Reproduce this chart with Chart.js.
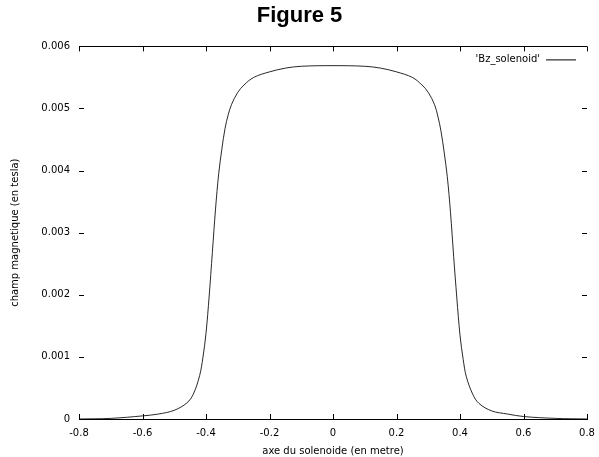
<!DOCTYPE html>
<html>
<head>
<meta charset="utf-8">
<script src="https://cdn.jsdelivr.net/npm/chart.js@4.4.1/dist/chart.umd.min.js"></script>
<style>
  html, body { margin: 0; padding: 0; background: #fff; }
  #wrap { width: 599px; height: 457px; }
</style>
</head>
<body>
<div id="wrap"><canvas id="fig5"></canvas></div>
<script>
// position along the solenoid axis (m) and field Bz (T)
const positions = [-0.8, -0.7, -0.6, -0.55, -0.5, -0.46, -0.44, -0.42, -0.41, -0.4, -0.39, -0.38, -0.37, -0.36, -0.35, -0.34, -0.33, -0.32, -0.3, -0.28, -0.25, -0.2, -0.15, -0.1, 0,
  0.1, 0.15, 0.2, 0.25, 0.28, 0.3, 0.32, 0.33, 0.34, 0.35, 0.36, 0.37, 0.38, 0.39, 0.4, 0.41, 0.42, 0.44, 0.46, 0.5, 0.55, 0.6, 0.7, 0.8];
const bzValues = [0.0, 0.00001, 0.00005, 0.00008, 0.00014, 0.00026, 0.00040, 0.00070, 0.00098, 0.00138, 0.00198, 0.00268, 0.00338, 0.00395, 0.00435, 0.00468, 0.00490, 0.00506, 0.00526, 0.00538, 0.00550, 0.00559, 0.00565, 0.00568, 0.00569,
  0.00568, 0.00565, 0.00559, 0.00550, 0.00538, 0.00526, 0.00506, 0.00488, 0.00464, 0.00430, 0.00390, 0.00333, 0.00262, 0.00195, 0.00135, 0.00096, 0.00068, 0.00040, 0.00025, 0.00013, 0.00008, 0.00004, 0.00001, 0.0];
const xTicks = [-0.8, -0.6, -0.4, -0.2, 0, 0.2, 0.4, 0.6, 0.8];
const yTicks = [0, 0.001, 0.002, 0.003, 0.004, 0.005, 0.006];

const points = positions.map((x, i) => ({ x: x, y: bzValues[i] }));
const labelFont = { family: "'DejaVu Sans', sans-serif", size: 10 };

// gnuplot style: ticks drawn inward on all four sides + legend inside the plot
const gnuplotFrame = {
  id: "gnuplotFrame",
  afterDatasetsDraw(chart) {
    const { ctx, chartArea: a, scales } = chart;
    const len = 5;
    ctx.save();
    ctx.strokeStyle = "#000";
    ctx.lineWidth = 1;
    ctx.beginPath();
    xTicks.forEach(v => {
      const px = Math.round(scales.x.getPixelForValue(v)) + 0.5;
      ctx.moveTo(px, a.bottom); ctx.lineTo(px, a.bottom - len);
      ctx.moveTo(px, a.top); ctx.lineTo(px, a.top + len);
    });
    yTicks.forEach(v => {
      const py = Math.round(scales.y.getPixelForValue(v)) + 0.5;
      ctx.moveTo(a.left, py); ctx.lineTo(a.left + len, py);
      ctx.moveTo(a.right, py); ctx.lineTo(a.right - len, py);
    });
    ctx.stroke();

    const ds = chart.data.datasets[0];
    ctx.font = "10px 'DejaVu Sans', sans-serif";
    ctx.fillStyle = "#000";
    ctx.textAlign = "right";
    ctx.textBaseline = "middle";
    const ly = a.top + 13.5;
    ctx.fillText(ds.label, a.right - 47, ly);
    ctx.beginPath();
    ctx.moveTo(a.right - 41, ly); ctx.lineTo(a.right - 11, ly);
    ctx.stroke();
    ctx.restore();
  }
};

new Chart(document.getElementById("fig5"), {
  type: "scatter",
  data: {
    datasets: [{
      label: "'Bz_solenoid'",
      data: points,
      showLine: true,
      borderColor: "#111",
      borderWidth: 0.9,
      pointRadius: 0,
      tension: 0.35,
      fill: false
    }]
  },
  options: {
    responsive: true,
    maintainAspectRatio: false,
    animation: false,
    layout: { padding: 0 },
    plugins: {
      legend: { display: false },
      tooltip: { enabled: false },
      title: {
        display: true,
        text: "Figure 5",
        color: "#000",
        font: { family: "'Liberation Sans', sans-serif", size: 22, weight: "bold" },
        padding: { top: 3, bottom: 17 }
      }
    },
    scales: {
      x: {
        type: "linear",
        min: -0.8,
        max: 0.8,
        afterBuildTicks: s => { s.ticks = xTicks.map(v => ({ value: v })); },
        afterFit: s => { s.height = 38; s.paddingRight = 12; },
        border: { display: true, color: "#000", width: 1 },
        grid: { display: false, drawTicks: false },
        ticks: {
          color: "#000",
          padding: 8,
          autoSkip: false,
          maxRotation: 0,
          font: labelFont,
          callback: v => String(Math.round(v * 10) / 10)
        },
        title: {
          display: true,
          text: "axe du solenoide (en metre)",
          color: "#000",
          font: labelFont,
          padding: { top: 2, bottom: 0 }
        }
      },
      y: {
        min: 0,
        max: 0.006,
        afterBuildTicks: s => { s.ticks = yTicks.map(v => ({ value: v })); },
        afterFit: s => { s.width = 79; },
        border: { display: false },
        grid: {
          drawTicks: false,
          color: c => (c.tick && Math.abs(c.tick.value - 0.006) < 1e-9) ? "#000" : "rgba(0,0,0,0)",
          lineWidth: 1
        },
        ticks: {
          color: "#000",
          padding: 9,
          font: labelFont,
          callback: v => v === 0 ? "0" : v.toFixed(3)
        },
        title: {
          display: true,
          text: "champ magnetique (en tesla)",
          color: "#000",
          font: labelFont,
          padding: { top: 9, bottom: 4 }
        }
      }
    }
  },
  plugins: [gnuplotFrame]
});
</script>
</body>
</html>
